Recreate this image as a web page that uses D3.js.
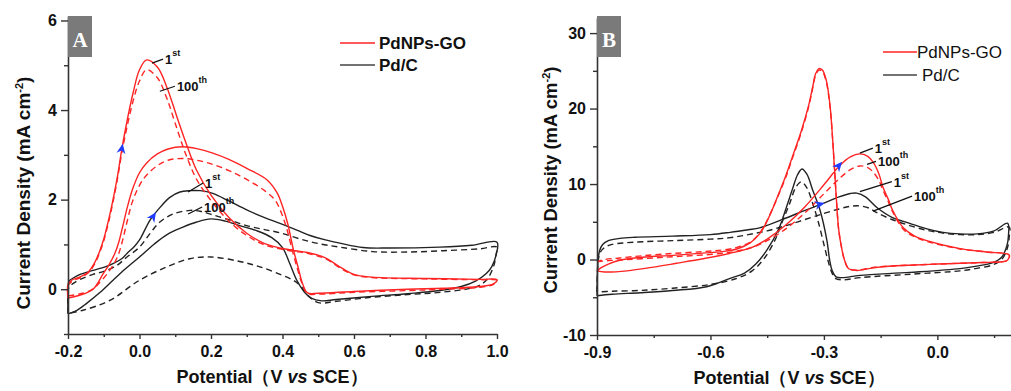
<!DOCTYPE html>
<html>
<head>
<meta charset="utf-8">
<script src="https://cdn.jsdelivr.net/npm/d3@7"></script>
<style>
  body { margin: 0; background: #fff; }
  svg { display: block; }
</style>
</head>
<body>
<svg id="chart" width="1011" height="391"></svg>
<script>
const FONT = "'Liberation Sans', Arial, sans-serif";
const RED = "#ff2424";
const BLACK = "#222";
const BLUE = "#1f3cff";

// ---- panel A : [potential V, current density mA cm-2], forward then reverse scan
const aGO1st = [[-0.2,-0.2],[-0.2,0.1],[-0.19,0.2],[-0.165,0.28],[-0.144,0.38],[-0.125,0.6],[-0.11,0.88],[-0.1,1.12],[-0.085,1.6],[-0.074,2.0],[-0.062,2.5],[-0.05,3.1],[-0.035,3.75],[-0.018,4.38],[0.0,4.9],[0.02,5.12],[0.05,4.96],[0.077,4.5],[0.105,3.84],[0.133,3.2],[0.16,2.65],[0.2,2.1],[0.25,1.6],[0.3,1.25],[0.35,1.02],[0.42,0.88],[0.47,0.82],[0.52,0.7],[0.56,0.5],[0.6,0.33],[0.65,0.27],[0.8,0.24],[0.95,0.22],[1.0,0.21],
  [0.99,0.12],[0.95,0.06],[0.85,0.02],[0.75,0.0],[0.6,-0.05],[0.5,-0.09],[0.47,-0.08],[0.455,0.15],[0.445,0.45],[0.43,0.9],[0.415,1.45],[0.4,1.85],[0.385,2.15],[0.357,2.44],[0.3,2.7],[0.25,2.9],[0.205,3.04],[0.16,3.14],[0.12,3.18],[0.08,3.13],[0.05,3.02],[0.02,2.82],[0.0,2.6],[-0.02,2.22],[-0.035,1.8],[-0.047,1.4],[-0.058,1.05],[-0.07,0.78],[-0.085,0.55],[-0.102,0.34],[-0.13,0.0],[-0.166,-0.13],[-0.2,-0.2]];
const aGO100th = [[-0.2,-0.15],[-0.2,0.08],[-0.19,0.17],[-0.165,0.26],[-0.144,0.36],[-0.125,0.57],[-0.11,0.85],[-0.1,1.08],[-0.085,1.55],[-0.074,1.95],[-0.062,2.45],[-0.05,3.02],[-0.035,3.62],[-0.018,4.2],[0.0,4.65],[0.02,4.9],[0.05,4.72],[0.077,4.25],[0.1,3.7],[0.13,3.0],[0.16,2.45],[0.2,1.98],[0.25,1.52],[0.3,1.2],[0.35,0.99],[0.42,0.86],[0.47,0.8],[0.52,0.68],[0.56,0.48],[0.6,0.32],[0.65,0.26],[0.8,0.23],[0.95,0.21],[1.0,0.2],
  [0.99,0.11],[0.95,0.04],[0.85,0.0],[0.75,-0.03],[0.6,-0.07],[0.5,-0.11],[0.47,-0.1],[0.455,0.12],[0.443,0.42],[0.428,0.85],[0.412,1.35],[0.397,1.7],[0.38,1.98],[0.35,2.2],[0.3,2.45],[0.25,2.65],[0.2,2.8],[0.16,2.88],[0.12,2.92],[0.08,2.88],[0.05,2.76],[0.02,2.55],[0.0,2.32],[-0.02,1.95],[-0.035,1.5],[-0.047,1.1],[-0.058,0.8],[-0.072,0.56],[-0.09,0.35],[-0.11,0.16],[-0.135,-0.02],[-0.17,-0.11],[-0.2,-0.15]];
const aC1st = [[-0.2,-0.55],[-0.2,0.0],[-0.197,0.18],[-0.185,0.25],[-0.166,0.33],[-0.13,0.42],[-0.083,0.54],[-0.05,0.68],[-0.035,0.8],[-0.015,0.95],[0.0,1.1],[0.03,1.55],[0.06,1.85],[0.085,2.05],[0.113,2.17],[0.141,2.2],[0.17,2.2],[0.205,2.14],[0.25,1.97],[0.3,1.77],[0.35,1.6],[0.393,1.47],[0.44,1.32],[0.477,1.2],[0.52,1.1],[0.56,1.03],[0.625,0.93],[0.7,0.92],[0.84,0.94],[0.93,0.98],[1.0,1.05],
  [0.997,0.75],[0.985,0.5],[0.97,0.35],[0.94,0.18],[0.9,0.06],[0.84,-0.03],[0.75,-0.1],[0.65,-0.16],[0.55,-0.23],[0.51,-0.26],[0.48,-0.2],[0.46,-0.05],[0.44,0.2],[0.42,0.58],[0.4,0.93],[0.37,1.15],[0.33,1.3],[0.28,1.42],[0.24,1.52],[0.2,1.57],[0.16,1.5],[0.12,1.38],[0.077,1.22],[0.04,1.0],[0.0,0.72],[-0.04,0.45],[-0.074,0.2],[-0.11,-0.07],[-0.147,-0.31],[-0.175,-0.47],[-0.2,-0.55]];
const aC100th = [[-0.2,-0.54],[-0.2,-0.1],[-0.197,0.05],[-0.185,0.13],[-0.166,0.22],[-0.13,0.33],[-0.1,0.4],[-0.065,0.52],[-0.035,0.72],[0.0,0.94],[0.03,1.25],[0.057,1.5],[0.094,1.68],[0.141,1.76],[0.17,1.74],[0.205,1.66],[0.25,1.55],[0.3,1.42],[0.35,1.33],[0.393,1.26],[0.45,1.12],[0.5,1.02],[0.56,0.94],[0.653,0.84],[0.75,0.83],[0.85,0.86],[0.95,0.9],[1.0,0.94],
  [0.998,0.8],[0.99,0.5],[0.97,0.2],[0.94,0.05],[0.84,-0.07],[0.75,-0.12],[0.65,-0.18],[0.55,-0.27],[0.5,-0.3],[0.47,-0.13],[0.45,0.08],[0.43,0.2],[0.4,0.31],[0.337,0.5],[0.28,0.62],[0.2,0.72],[0.14,0.68],[0.077,0.5],[0.0,0.2],[-0.083,-0.25],[-0.158,-0.47],[-0.2,-0.54]];

// ---- panel B
const bGO1st = [[-0.9,-1.5],[-0.88,-1.65],[-0.82,-1.5],[-0.75,-1.0],[-0.69,-0.5],[-0.62,0.1],[-0.55,0.8],[-0.49,1.6],[-0.45,2.7],[-0.4,4.6],[-0.35,7.0],[-0.3,9.9],[-0.258,12.45],[-0.23,13.6],[-0.205,14.0],[-0.185,13.7],[-0.17,12.9],[-0.155,11.4],[-0.144,9.6],[-0.13,8.0],[-0.118,6.5],[-0.09,4.2],[-0.06,3.1],[-0.028,2.5],[0.06,1.45],[0.13,1.0],[0.19,0.6],
  [0.185,-0.1],[0.17,-0.3],[0.12,-0.4],[0.06,-0.5],[0.0,-0.6],[-0.06,-0.72],[-0.118,-0.85],[-0.17,-1.1],[-0.213,-1.45],[-0.235,-1.2],[-0.246,0.0],[-0.253,1.5],[-0.261,4.0],[-0.267,8.0],[-0.272,12.0],[-0.277,16.0],[-0.284,20.5],[-0.294,23.8],[-0.304,25.1],[-0.313,25.3],[-0.322,24.6],[-0.33,22.8],[-0.34,20.5],[-0.36,17.0],[-0.382,13.8],[-0.4,11.2],[-0.418,8.9],[-0.435,6.8],[-0.452,4.9],[-0.47,3.4],[-0.495,2.2],[-0.53,1.4],[-0.57,1.05],[-0.62,0.85],[-0.7,0.55],[-0.78,0.3],[-0.84,-0.1],[-0.87,-0.6],[-0.89,-1.1],[-0.9,-1.5]];
const bGO100th = [[-0.9,-0.3],[-0.87,-0.15],[-0.82,0.0],[-0.75,0.2],[-0.69,0.4],[-0.62,0.6],[-0.55,0.95],[-0.49,1.6],[-0.45,2.5],[-0.4,4.1],[-0.35,6.2],[-0.3,8.7],[-0.26,10.7],[-0.23,11.9],[-0.205,12.4],[-0.185,12.2],[-0.17,11.6],[-0.155,10.5],[-0.144,9.2],[-0.13,7.7],[-0.118,6.3],[-0.09,4.0],[-0.06,3.0],[-0.028,2.4],[0.06,1.4],[0.13,1.0],[0.19,0.6],
  [0.185,-0.1],[0.17,-0.3],[0.12,-0.4],[0.06,-0.5],[0.0,-0.6],[-0.06,-0.72],[-0.118,-0.85],[-0.17,-1.05],[-0.213,-1.4],[-0.235,-1.15],[-0.246,0.0],[-0.253,1.5],[-0.261,4.0],[-0.267,8.0],[-0.272,12.0],[-0.277,16.0],[-0.284,20.3],[-0.294,23.6],[-0.304,24.9],[-0.313,25.1],[-0.322,24.4],[-0.33,22.6],[-0.34,20.3],[-0.36,16.8],[-0.382,13.6],[-0.4,11.0],[-0.418,8.8],[-0.435,6.8],[-0.452,5.0],[-0.47,3.5],[-0.495,2.3],[-0.53,1.6],[-0.57,1.25],[-0.62,1.05],[-0.7,0.8],[-0.78,0.5],[-0.84,0.2],[-0.88,0.0],[-0.9,-0.3]];
const bC1st = [[-0.9,-4.8],[-0.899,-2.0],[-0.897,0.0],[-0.893,1.2],[-0.885,2.0],[-0.87,2.5],[-0.84,2.8],[-0.8,2.95],[-0.7,3.1],[-0.6,3.3],[-0.548,3.6],[-0.5,3.95],[-0.47,4.2],[-0.4,5.5],[-0.35,6.5],[-0.303,7.4],[-0.26,8.3],[-0.23,8.75],[-0.213,8.8],[-0.19,8.3],[-0.16,6.9],[-0.12,5.6],[-0.073,4.8],[-0.03,4.1],[0.015,3.6],[0.06,3.4],[0.105,3.4],[0.15,3.8],[0.186,4.8],
  [0.188,3.2],[0.184,1.85],[0.17,0.3],[0.147,-0.4],[0.1,-0.9],[0.06,-1.2],[-0.073,-1.7],[-0.205,-2.1],[-0.25,-2.4],[-0.268,-2.3],[-0.278,-1.5],[-0.285,0.0],[-0.292,2.5],[-0.31,6.5],[-0.329,9.1],[-0.345,11.3],[-0.358,12.0],[-0.37,11.2],[-0.382,9.5],[-0.4,6.8],[-0.42,4.0],[-0.45,1.3],[-0.48,-0.6],[-0.51,-1.8],[-0.548,-2.5],[-0.61,-3.6],[-0.7,-4.1],[-0.786,-4.4],[-0.86,-4.6],[-0.9,-4.8]];
const bC100th = [[-0.9,-4.3],[-0.899,-2.0],[-0.897,-0.3],[-0.892,0.9],[-0.88,1.6],[-0.86,2.0],[-0.8,2.3],[-0.7,2.5],[-0.6,2.7],[-0.548,2.9],[-0.5,3.3],[-0.45,3.8],[-0.4,4.5],[-0.35,5.3],[-0.3,6.1],[-0.26,6.7],[-0.23,7.05],[-0.205,7.1],[-0.18,6.8],[-0.16,6.2],[-0.12,5.3],[-0.073,4.5],[-0.03,3.9],[0.015,3.5],[0.06,3.3],[0.105,3.3],[0.15,3.6],[0.19,4.3],
  [0.19,3.0],[0.185,1.5],[0.17,0.0],[0.147,-0.7],[0.1,-1.2],[0.06,-1.5],[-0.073,-1.95],[-0.205,-2.4],[-0.25,-2.7],[-0.27,-2.5],[-0.28,-1.6],[-0.29,0.0],[-0.3,2.0],[-0.315,5.0],[-0.33,7.5],[-0.345,9.5],[-0.36,10.3],[-0.375,9.5],[-0.39,7.5],[-0.41,5.0],[-0.43,2.5],[-0.46,0.0],[-0.49,-1.5],[-0.53,-2.5],[-0.6,-3.3],[-0.7,-3.8],[-0.786,-4.1],[-0.86,-4.2],[-0.9,-4.3]];

// ticks
const aXTicks = [-0.2, 0.0, 0.2, 0.4, 0.6, 0.8, 1.0];
const aXMinor = [-0.1, 0.1, 0.3, 0.5, 0.7, 0.9];
const aYTicks = [0, 2, 4, 6];
const aYMinor = [-1, 1, 3, 5];
const bXTicks = [-0.9, -0.6, -0.3, 0.0];
const bXMinor = [-0.75, -0.45, -0.15, 0.15];
const bYTicks = [-10, 0, 10, 20, 30];
const bYMinor = [-5, 5, 15, 25];

const legendNames = ["PdNPs-GO", "Pd/C"];

// scan direction arrows: [from, to] in data units
const aArrows = [[[-0.056, 2.85], [-0.047, 3.25]], [[0.02, 1.4], [0.046, 1.72]]];
const bArrows = [[[-0.278, 11.4], [-0.252, 12.95]], [[-0.335, 7.0], [-0.298, 7.5]]];

// cycle labels: curve point, leader offset in px, label
const aNotes = [
  { at: [0.035, 5.05], lead: [11, -4], main: "1", sup: "st" },
  { at: [0.057, 4.42], lead: [15, -5], main: "100", sup: "th" },
  { at: [0.136, 2.17], lead: [15, -9], main: "1", sup: "st" },
  { at: [0.136, 1.68], lead: [14, -7], main: "100", sup: "th" },
];
const bNotes = [
  { at: [-0.205, 14.1], lead: [13, -5], main: "1", sup: "st" },
  { at: [-0.186, 12.6], lead: [9, -3], main: "100", sup: "th" },
  { at: [-0.205, 9.0], lead: [32, -10], main: "1", sup: "st" },
  { at: [-0.17, 6.4], lead: [39, -15], main: "100", sup: "th" },
];

const svg = d3.select("#chart");

const fmtX = (d) => (Math.abs(d) < 1e-9 ? 0 : d).toFixed(1);
const fmtY = (d) => String(d);

function drawPanel(p) {
  const x = d3.scaleLinear().domain(p.xDomain).range(p.xRange);
  const y = d3.scaleLinear().domain(p.yDomain).range(p.yRange);
  const g = svg.append("g");

  const line = d3.line()
    .x((d) => x(d[0]))
    .y((d) => y(d[1]))
    .curve(d3.curveCatmullRom.alpha(0.5));

  p.curves.forEach((c) => {
    g.append("path")
      .attr("d", line(c.data))
      .attr("fill", "none")
      .attr("stroke", c.color)
      .attr("stroke-width", 1.4)
      .attr("stroke-dasharray", c.dashed ? "6,4" : null);
  });

  // axes
  const xAxis = g.append("g")
    .attr("transform", `translate(0,${p.yRange[0]})`)
    .call(d3.axisBottom(x).tickValues(p.xTicks).tickSize(5).tickSizeOuter(0).tickPadding(7).tickFormat(fmtX));
  g.append("g")
    .attr("transform", `translate(0,${p.yRange[0]})`)
    .call(d3.axisBottom(x).tickValues(p.xMinor).tickSize(3).tickFormat(""))
    .call((s) => s.select(".domain").remove());
  const yAxis = g.append("g")
    .attr("transform", `translate(${p.xRange[0]},0)`)
    .call(d3.axisLeft(y).tickValues(p.yTicks).tickSize(7).tickSizeOuter(0).tickPadding(4).tickFormat(fmtY));
  g.append("g")
    .attr("transform", `translate(${p.xRange[0]},0)`)
    .call(d3.axisLeft(y).tickValues(p.yMinor).tickSize(4).tickFormat(""))
    .call((s) => s.select(".domain").remove());

  g.selectAll(".domain").attr("stroke", "#333").attr("stroke-width", 1.6);
  g.selectAll(".tick line").attr("stroke", "#333").attr("stroke-width", 1.4);
  [xAxis, yAxis].forEach((a) => {
    a.attr("font-family", FONT).attr("font-size", 16).attr("font-weight", "bold");
    a.selectAll("text").attr("fill", "#111");
  });

  // axis titles
  const xt = g.append("text")
    .attr("x", p.xTitle[0]).attr("y", p.xTitle[1])
    .attr("text-anchor", "middle")
    .attr("font-family", FONT).attr("font-size", 18).attr("font-weight", "bold").attr("fill", "#111");
  xt.append("tspan").text("Potential\uFF08V ");
  xt.append("tspan").attr("font-style", "italic").text("vs");
  xt.append("tspan").text(" SCE\uFF09");

  const yt = g.append("text")
    .attr("transform", `translate(${p.yTitle[0]},${p.yTitle[1]}) rotate(-90)`)
    .attr("text-anchor", "middle")
    .attr("font-family", FONT).attr("font-size", p.yTitleSize).attr("font-weight", "bold").attr("fill", "#111");
  yt.append("tspan").text("Current Density (mA cm");
  yt.append("tspan").attr("dy", -7).attr("font-size", 11).text("-2");
  yt.append("tspan").attr("dy", 7).text(")");

  // panel badge
  g.append("rect")
    .attr("x", p.xRange[0]).attr("y", 16).attr("width", 24).attr("height", 41)
    .attr("fill", "#7a7a7a");
  g.append("text")
    .attr("x", p.xRange[0] + 12).attr("y", 47)
    .attr("text-anchor", "middle")
    .attr("font-family", "'Liberation Serif', 'DejaVu Serif', serif")
    .attr("font-size", 21).attr("font-weight", "bold").attr("fill", "#fff")
    .text(p.badge);

  // legend
  const leg = p.legend;
  legendNames.forEach((name, i) => {
    const ly = leg.y + i * leg.gap;
    g.append("line")
      .attr("x1", leg.x1).attr("x2", leg.x2).attr("y1", ly).attr("y2", ly)
      .attr("stroke", i === 0 ? RED : "#444").attr("stroke-width", 1.4);
    g.append("text")
      .attr("x", leg.x2 + leg.pad[i]).attr("y", ly + 6)
      .attr("font-family", FONT).attr("font-size", 17)
      .attr("font-weight", leg.bold ? "bold" : "normal").attr("fill", "#111")
      .text(name);
  });

  // scan direction arrows
  p.arrows.forEach(([a, b]) => {
    const x0 = x(a[0]), y0 = y(a[1]), x1 = x(b[0]), y1 = y(b[1]);
    const ang = Math.atan2(y1 - y0, x1 - x0) * 180 / Math.PI;
    g.append("path")
      .attr("d", "M0,0L-10,-4.5L-7,0L-10,4.5Z")
      .attr("transform", `translate(${x1},${y1}) rotate(${ang})`)
      .attr("fill", BLUE);
  });

  // cycle labels
  p.notes.forEach((n) => {
    const sx = x(n.at[0]), sy = y(n.at[1]);
    const ex = sx + n.lead[0], ey = sy + n.lead[1];
    g.append("line")
      .attr("x1", sx).attr("y1", sy).attr("x2", ex).attr("y2", ey)
      .attr("stroke", "#111").attr("stroke-width", 1.3);
    const t = g.append("text")
      .attr("x", ex + 2).attr("y", ey + 5)
      .attr("font-family", FONT).attr("font-size", 13).attr("font-weight", "bold").attr("fill", "#111");
    t.append("tspan").text(n.main);
    t.append("tspan").attr("dy", -8).attr("font-size", 9).text(n.sup);
  });
}

drawPanel({
  xDomain: [-0.2, 1.0], xRange: [68, 497],
  yDomain: [-1, 6.1], yRange: [334, 16],
  xTicks: aXTicks, xMinor: aXMinor, yTicks: aYTicks, yMinor: aYMinor,
  xTitle: [272, 383], yTitle: [30, 193], yTitleSize: 19,
  badge: "A",
  legend: { x1: 340, x2: 375, y: 43, gap: 22, pad: [4, 4], bold: true },
  curves: [
    { data: aC100th, color: BLACK, dashed: true },
    { data: aC1st, color: BLACK, dashed: false },
    { data: aGO100th, color: RED, dashed: true },
    { data: aGO1st, color: RED, dashed: false },
  ],
  arrows: aArrows,
  notes: aNotes,
});

drawPanel({
  xDomain: [-0.9, 0.2], xRange: [597, 1013],
  yDomain: [-10, 32], yRange: [335, 18],
  xTicks: bXTicks, xMinor: bXMinor, yTicks: bYTicks, yMinor: bYMinor,
  xTitle: [789, 384], yTitle: [557, 180], yTitleSize: 18.5,
  badge: "B",
  legend: { x1: 883, x2: 917, y: 52, gap: 23, pad: [0, 5], bold: false },
  curves: [
    { data: bC100th, color: BLACK, dashed: true },
    { data: bC1st, color: BLACK, dashed: false },
    { data: bGO100th, color: RED, dashed: true },
    { data: bGO1st, color: RED, dashed: false },
  ],
  arrows: bArrows,
  notes: bNotes,
});
</script>
</body>
</html>
